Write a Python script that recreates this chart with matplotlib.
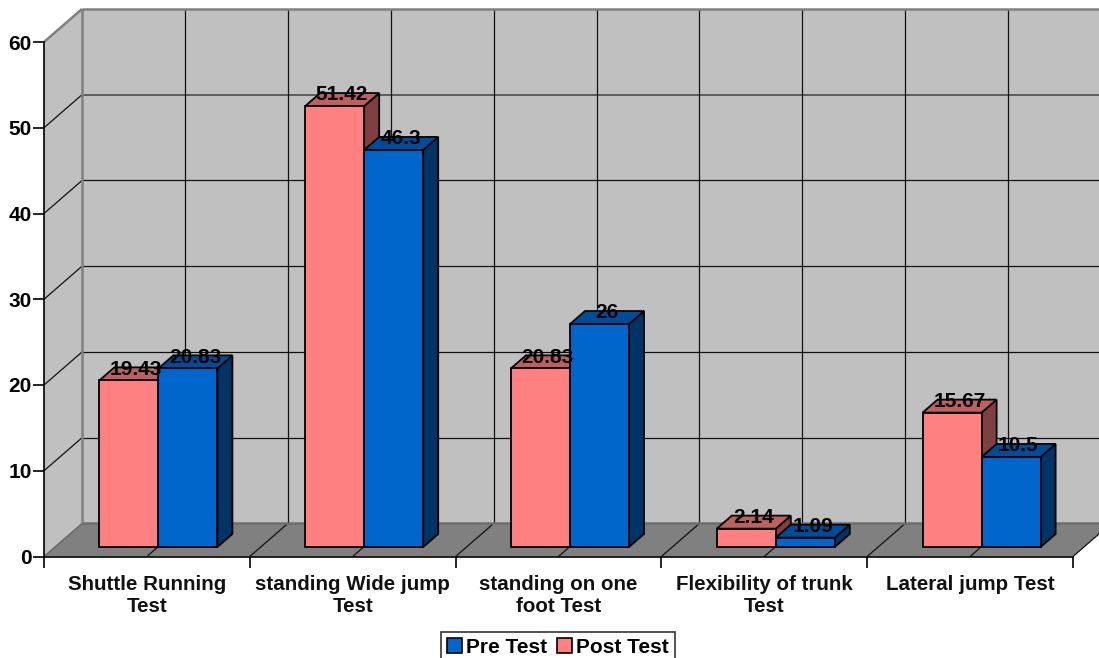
import matplotlib
matplotlib.use('Agg')
import matplotlib.pyplot as plt
from matplotlib.patches import Patch, Polygon

plt.rcParams['font.family'] = ['Liberation Sans', 'DejaVu Sans']
plt.rcParams['font.weight'] = 'bold'

# Data
categories = ['Shuttle Running\nTest', 'standing Wide jump\nTest',
    'standing on one\nfoot Test', 'Flexibility of trunk\nTest',
    'Lateral jump Test']
post_test = [19.43, 51.42, 20.83, 2.14, 15.67]
pre_test = [20.83, 46.3, 26, 1.09, 10.5]
post_labels = ['19.43', '51.42', '20.83', '2.14', '15.67']
pre_labels = ['20.83', '46.3', '26', '1.09', '10.5']
y_ticks = [0, 10, 20, 30, 40, 50, 60]

# Oblique offsets, x in categories and y in value units
wall_dx, wall_dy = 38 / 205.8, 33 / 8.57
bar_dx, bar_dy = 11.5 / 205.8, 9.5 / 8.57
depth_dx, depth_dy = 15 / 205.8, 13 / 8.57
bar_w = 59 / 205.8

W, H = 1099, 658
fig = plt.figure(figsize=(W / 100, H / 100), dpi=100)
ax = fig.add_axes([44 / W, (H - 556.5) / H, 1029 / W, 514.5 / H])
ax.set_xlim(0, 5)
ax.set_ylim(0, 60)
ax.patch.set_visible(False)


def poly(points, color, edge='none', lw=0.0, z=1):
    ax.add_patch(Polygon(points, closed=True, facecolor=color, edgecolor=edge,
        linewidth=lw, zorder=z, clip_on=False, joinstyle='miter'))


def line(xs, ys, color='#111111', lw=0.9, z=2):
    ax.plot(xs, ys, color=color, linewidth=lw, zorder=z, clip_on=False,
        solid_capstyle='butt')


# Walls and floor
top = y_ticks[-1]
poly([(0, 0), (wall_dx, wall_dy), (wall_dx, top + wall_dy), (0, top)], '#c0c0c0')
poly([(wall_dx, wall_dy), (5 + wall_dx, wall_dy), (5 + wall_dx, top + wall_dy),
    (wall_dx, top + wall_dy)], '#c0c0c0')
poly([(0, 0), (5, 0), (5 + wall_dx, wall_dy), (wall_dx, wall_dy)], '#808080')

# Grid
for t in y_ticks[1:-1]:
    c = '#555555' if t == 50 else '#111111'
    lw = 1.3 if t == 50 else 0.9
    line([wall_dx, 5 + wall_dx], [t + wall_dy, t + wall_dy], c, lw)
    line([0, wall_dx], [t, t + wall_dy])
for k in range(1, 11):
    x = k / 2
    line([x + wall_dx, x + wall_dx], [wall_dy, top + wall_dy])
    line([x, x + wall_dx], [0, wall_dy])
line([0, wall_dx], [0, wall_dy], '#666666', 1.0)
line([0, wall_dx], [top, top + wall_dy], '#808080', 1.8, 3)
line([wall_dx, wall_dx], [wall_dy, top + wall_dy], '#808080', 1.8, 3)
line([wall_dx, 5 + wall_dx], [top + wall_dy, top + wall_dy], '#808080', 1.8, 3)
line([wall_dx, 5 + wall_dx], [wall_dy, wall_dy], '#6e6e6e', 1.8, 3)


def bar3d(x0, value, front, roof, side, z):
    x1 = x0 + bar_w
    y0 = bar_dy
    y1 = bar_dy + value
    kw = dict(edge='black', lw=1.3, z=z)
    poly([(x1, y0), (x1 + depth_dx, y0 + depth_dy), (x1 + depth_dx, y1 + depth_dy),
        (x1, y1)], side, **kw)
    poly([(x0, y1), (x1, y1), (x1 + depth_dx, y1 + depth_dy),
        (x0 + depth_dx, y1 + depth_dy)], roof, **kw)
    poly([(x0, y0), (x1, y0), (x1, y1), (x0, y1)], front, **kw)


# Bars, post test first so that the pre test bar sits over its side
for i in range(len(categories)):
    mid = i + 0.5 + bar_dx
    bar3d(mid - bar_w, post_test[i], '#ff8080', '#bf6060', '#804040', 5 + i)
    bar3d(mid, pre_test[i], '#0066cc', '#004c99', '#003366', 5 + i)

for i in range(len(categories)):
    mid = i + 0.5 + bar_dx
    for x, v, s in [(mid - bar_w / 2, post_test[i], post_labels[i]),
            (mid + bar_w / 2, pre_test[i], pre_labels[i])]:
        ax.text(x + 0.035, v + bar_dy + 1.3, s, ha='center', va='center',
            fontsize=15, color='black', zorder=20)

# Axes
for s in ['top', 'right']:
    ax.spines[s].set_visible(False)
for s in ['left', 'bottom']:
    ax.spines[s].set_linewidth(1.2)
    ax.spines[s].set_zorder(4)
ax.set_yticks(y_ticks)
ax.set_xticks(range(6))
ax.set_xticklabels([])
ax.set_xticks([i + 0.5 for i in range(5)], minor=True)
ax.set_xticklabels(categories, minor=True, fontsize=14.8, color='#111111',
    linespacing=1.15)
ax.tick_params(axis='x', which='major', length=8, width=1.2)
ax.tick_params(axis='x', which='minor', length=0, pad=13.5)
ax.tick_params(axis='y', length=8, width=1.2, labelsize=15, pad=1,
    labelcolor='black')

# Legend
handles = [Patch(facecolor='#0066cc', edgecolor='black', linewidth=1.2, label='Pre Test'),
    Patch(facecolor='#ff8080', edgecolor='black', linewidth=1.2, label='Post Test')]
leg = fig.legend(handles=handles, ncol=2, loc='lower center',
    bbox_to_anchor=(558 / W, -5 / H), fontsize=15, frameon=True, fancybox=False,
    edgecolor='#333333', framealpha=1, handlelength=0.72, handleheight=0.72,
    handletextpad=0.2, columnspacing=0.45, borderpad=0.3, borderaxespad=0)
leg.get_frame().set_linewidth(1.2)

fig.savefig('out.png', dpi=100)
